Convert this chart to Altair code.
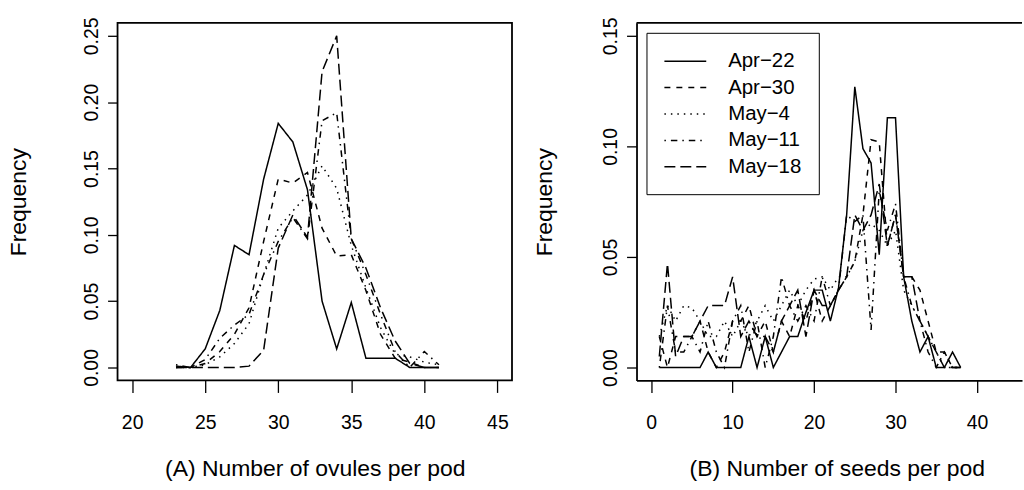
import altair as alt
import pandas as pd

# ---------------- data ----------------
series = ["Apr\u221222", "Apr\u221230", "May\u22124", "May\u221211", "May\u221218"]
dash_patterns = [[1, 0], [6, 6], [1.5, 5], [1.5, 5, 6.5, 5], [11, 5]]

# (A) number of ovules per pod, x = 23..41
ovule_x = list(range(23, 42))
ovule_apr22 = [0.001, 0.0, 0.014, 0.043, 0.092, 0.085, 0.142, 0.184, 0.170, 0.134,
               0.050, 0.014, 0.049, 0.007, 0.007, 0.007, 0.0, 0.0, 0.0]
ovule_apr30 = [0.0, 0.0, 0.003, 0.012, 0.025, 0.045, 0.095, 0.142, 0.139, 0.147,
               0.105, 0.084, 0.085, 0.058, 0.025, 0.007, 0.004, 0.0, 0.0]
ovule_may4 = [0.0, 0.0, 0.002, 0.008, 0.018, 0.033, 0.070, 0.105, 0.118, 0.130,
              0.152, 0.135, 0.092, 0.060, 0.030, 0.010, 0.008, 0.004, 0.002]
ovule_may11 = [0.002, 0.0, 0.006, 0.022, 0.032, 0.040, 0.070, 0.095, 0.113, 0.097,
               0.186, 0.192, 0.097, 0.070, 0.040, 0.012, 0.0, 0.012, 0.002]
ovule_may18 = [0.0, 0.0, 0.0, 0.0, 0.0, 0.001, 0.013, 0.090, 0.115, 0.098,
               0.223, 0.250, 0.097, 0.075, 0.045, 0.020, 0.003, 0.0, 0.0]

# (B) number of seeds per pod, x = 1..38
seed_x = list(range(1, 39))
seed_apr22 = [0.0, 0.0, 0.0, 0.0, 0.0, 0.0, 0.007, 0.0, 0.0, 0.0,
              0.0, 0.014, 0.0, 0.014, 0.0, 0.007, 0.014, 0.014, 0.025, 0.035,
              0.035, 0.021, 0.036, 0.069, 0.127, 0.099, 0.0925, 0.051, 0.113, 0.113,
              0.041, 0.021, 0.007, 0.014, 0.0, 0.0, 0.007, 0.0]
seed_apr30 = [0.014, 0.0, 0.014, 0.014, 0.014, 0.021, 0.007, 0.0, 0.007, 0.021,
              0.021, 0.028, 0.014, 0.021, 0.007, 0.021, 0.014, 0.028, 0.021, 0.035,
              0.021, 0.028, 0.035, 0.041, 0.048, 0.069, 0.103, 0.102, 0.055, 0.069,
              0.041, 0.041, 0.035, 0.021, 0.007, 0.007, 0.0, 0.0]
seed_may4 = [0.014, 0.028, 0.021, 0.028, 0.027, 0.021, 0.014, 0.014, 0.021, 0.014,
             0.021, 0.014, 0.021, 0.028, 0.021, 0.028, 0.035, 0.028, 0.035, 0.040,
             0.041, 0.035, 0.041, 0.041, 0.048, 0.062, 0.065, 0.062, 0.055, 0.062,
             0.035, 0.028, 0.021, 0.014, 0.007, 0.0, 0.0, 0.0]
seed_may11 = [0.0, 0.028, 0.007, 0.007, 0.014, 0.007, 0.021, 0.007, 0.0, 0.021,
              0.028, 0.007, 0.021, 0.0, 0.014, 0.041, 0.028, 0.021, 0.028, 0.021,
              0.041, 0.028, 0.035, 0.069, 0.066, 0.069, 0.017, 0.080, 0.062, 0.074,
              0.041, 0.028, 0.021, 0.007, 0.0, 0.007, 0.0, 0.0]
seed_may18 = [0.005, 0.047, 0.005, 0.014, 0.014, 0.021, 0.028, 0.028, 0.028, 0.041,
              0.014, 0.021, 0.014, 0.014, 0.007, 0.021, 0.028, 0.035, 0.014, 0.035,
              0.028, 0.028, 0.035, 0.041, 0.069, 0.062, 0.069, 0.083, 0.055, 0.069,
              0.041, 0.041, 0.021, 0.014, 0.007, 0.0, 0.0, 0.0]

ovule_x_ticks = [20, 25, 30, 35, 40, 45]
seed_x_ticks = [0, 10, 20, 30, 40]
ovule_y_ticks = [0.0, 0.05, 0.10, 0.15, 0.20, 0.25]
seed_y_ticks = [0.0, 0.05, 0.10, 0.15]


def long_table(xs, cols):
    rows = []
    for name, vals in zip(series, cols):
        for x, v in zip(xs, vals):
            rows.append({"x": x, "freq": v, "date": name})
    return pd.DataFrame(rows)


df_a = long_table(ovule_x, [ovule_apr22, ovule_apr30, ovule_may4, ovule_may11, ovule_may18])
df_b = long_table(seed_x, [seed_apr22, seed_apr30, seed_may4, seed_may11, seed_may18])

FONT = "Liberation Sans"
LW = 1.5
LABEL_FS = 19.5
TITLE_FS = 23
dash_scale = alt.Scale(domain=series, range=dash_patterns)


def y_axis(values, title_x, domain):
    return alt.Axis(values=values, format=".2f", title="Frequency", grid=False,
                    domain=domain, domainColor="black", domainWidth=1.8,
                    tickSize=10, tickColor="black", tickWidth=1.3,
                    labelAngle=270, labelAlign="center", labelBaseline="middle",
                    labelPadding=16, labelFontSize=LABEL_FS, labelColor="black",
                    labelFont=FONT, titleFont=FONT, titleFontSize=TITLE_FS,
                    titleFontWeight="normal", titleColor="black", titleAngle=270,
                    titleX=title_x, titleY=179.5, titleAlign="center",
                    titleBaseline="middle")


def x_axis(values, title, title_x, domain):
    return alt.Axis(values=values, format="d", title=title, grid=False,
                    domain=domain, domainColor="black", domainWidth=1.8,
                    tickSize=12, tickColor="black", tickWidth=1.3,
                    labelPadding=21, labelFontSize=LABEL_FS, labelColor="black",
                    labelFont=FONT, titleFont=FONT, titleFontSize=TITLE_FS,
                    titleFontWeight="normal", titleColor="black",
                    titleX=title_x, titleY=88, titleAlign="center",
                    titleBaseline="middle", labelFlush=False)


left = alt.Chart(df_a).mark_line(color="black", strokeWidth=LW).encode(
    x=alt.X("x:Q", scale=alt.Scale(domain=[19, 46], nice=False, zero=False),
            axis=x_axis(ovule_x_ticks, "(A) Number of ovules per pod", 198, False)),
    y=alt.Y("freq:Q", scale=alt.Scale(domain=[-0.0098, 0.2598], nice=False, zero=False),
            axis=y_axis(ovule_y_ticks, -99, False)),
    strokeDash=alt.StrokeDash("date:N", scale=dash_scale, legend=None),
).properties(width=396, height=359,
             view=alt.ViewBackground(stroke="black", strokeWidth=1.8))

right_lines = alt.Chart(df_b).mark_line(color="black", strokeWidth=LW).encode(
    x=alt.X("x:Q", scale=alt.Scale(domain=[-1.8, 45.53], nice=False, zero=False),
            axis=x_axis(seed_x_ticks, "(B) Number of seeds per pod", 201, True)),
    y=alt.Y("freq:Q", scale=alt.Scale(domain=[-0.00586, 0.1559], nice=False, zero=False),
            axis=y_axis(seed_y_ticks, -92, True)),
    strokeDash=alt.StrokeDash(
        "date:N", scale=dash_scale,
        legend=alt.Legend(orient="top-left", offset=10, title=None,
                          strokeColor="black", fillColor="white", padding=17,
                          symbolType="M-1,0L3,0", symbolSize=441,
                          symbolStrokeWidth=LW, symbolStrokeColor="black",
                          symbolFillColor="transparent",
                          labelFontSize=20.5, labelFont=FONT, labelColor="black",
                          labelOffset=42, rowPadding=4.5)),
)

top_border = alt.Chart(pd.DataFrame({"k": [0]})).mark_rule(
    color="black", strokeWidth=1.8).encode(
    x=alt.value(0), x2=alt.value(387), y=alt.value(0))

right = alt.layer(right_lines, top_border).properties(
    width=387, height=359,
    view=alt.ViewBackground(stroke="transparent"))

chart = alt.hconcat(left, right, spacing=125, bounds="flush").resolve_legend(
    strokeDash="independent"
).properties(
    padding={"left": 7, "top": 15, "right": 0, "bottom": 0},
    background="white",
).configure(font=FONT)

chart.save("out.html", embed_options={"renderer": "svg", "actions": False})
